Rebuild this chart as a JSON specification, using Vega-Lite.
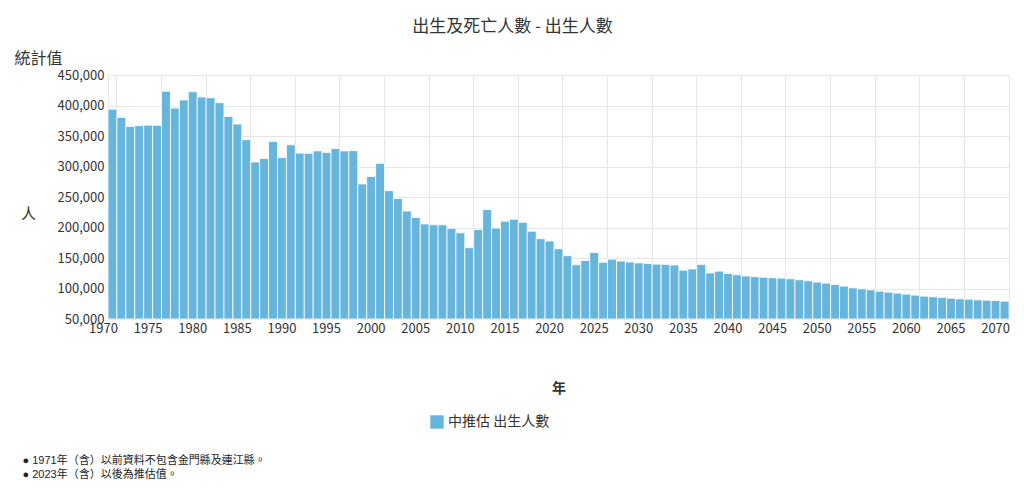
{
  "$schema": "https://vega.github.io/schema/vega-lite/v6.json",
  "autosize": {"type": "none"},
  "width": 901,
  "height": 244,
  "padding": {"left": 108, "top": 75, "right": 15, "bottom": 179},
  "background": "#ffffff",
  "title": {
    "text": "出生及死亡人數 - 出生人數",
    "fontSize": 17,
    "fontWeight": "normal",
    "color": "#333333",
    "anchor": "middle",
    "offset": 14,
    "dx": -46
  },
  "config": {
    "font": "Noto Sans CJK TC",
    "view": {"stroke": "#e6e6e6"},
    "axis": {"gridColor": "#e6e6e6", "labelColor": "#333333", "titleColor": "#333333"}
  },
  "data": {
    "values": [
      {"year": 1970, "births": 394015}, {"year": 1971, "births": 380424}, {"year": 1972, "births": 365749},
      {"year": 1973, "births": 366942}, {"year": 1974, "births": 367823}, {"year": 1975, "births": 367647},
      {"year": 1976, "births": 423356}, {"year": 1977, "births": 395796}, {"year": 1978, "births": 409203},
      {"year": 1979, "births": 422518}, {"year": 1980, "births": 413881}, {"year": 1981, "births": 412779},
      {"year": 1982, "births": 404593}, {"year": 1983, "births": 382153}, {"year": 1984, "births": 369711},
      {"year": 1985, "births": 344017}, {"year": 1986, "births": 307363}, {"year": 1987, "births": 313282},
      {"year": 1988, "births": 341054}, {"year": 1989, "births": 314553}, {"year": 1990, "births": 335618},
      {"year": 1991, "births": 321932}, {"year": 1992, "births": 321632}, {"year": 1993, "births": 325613},
      {"year": 1994, "births": 322938}, {"year": 1995, "births": 329581}, {"year": 1996, "births": 325545},
      {"year": 1997, "births": 326002}, {"year": 1998, "births": 271450}, {"year": 1999, "births": 283661},
      {"year": 2000, "births": 305312}, {"year": 2001, "births": 260354}, {"year": 2002, "births": 247530},
      {"year": 2003, "births": 227070}, {"year": 2004, "births": 216419}, {"year": 2005, "births": 205854},
      {"year": 2006, "births": 204459}, {"year": 2007, "births": 204414}, {"year": 2008, "births": 198733},
      {"year": 2009, "births": 191310}, {"year": 2010, "births": 166886}, {"year": 2011, "births": 196627},
      {"year": 2012, "births": 229481}, {"year": 2013, "births": 199113}, {"year": 2014, "births": 210383},
      {"year": 2015, "births": 213598}, {"year": 2016, "births": 208440}, {"year": 2017, "births": 193844},
      {"year": 2018, "births": 181601}, {"year": 2019, "births": 177767}, {"year": 2020, "births": 165249},
      {"year": 2021, "births": 153820}, {"year": 2022, "births": 138986}, {"year": 2023, "births": 146000},
      {"year": 2024, "births": 159000}, {"year": 2025, "births": 143000}, {"year": 2026, "births": 148000},
      {"year": 2027, "births": 145000}, {"year": 2028, "births": 143500}, {"year": 2029, "births": 142000},
      {"year": 2030, "births": 141000}, {"year": 2031, "births": 140000}, {"year": 2032, "births": 139500},
      {"year": 2033, "births": 138500}, {"year": 2034, "births": 130000}, {"year": 2035, "births": 132000},
      {"year": 2036, "births": 139500}, {"year": 2037, "births": 125500}, {"year": 2038, "births": 128500},
      {"year": 2039, "births": 124700}, {"year": 2040, "births": 122500}, {"year": 2041, "births": 120500},
      {"year": 2042, "births": 119300}, {"year": 2043, "births": 118500}, {"year": 2044, "births": 117600},
      {"year": 2045, "births": 117000}, {"year": 2046, "births": 116000}, {"year": 2047, "births": 114300},
      {"year": 2048, "births": 112700}, {"year": 2049, "births": 110500}, {"year": 2050, "births": 108800},
      {"year": 2051, "births": 106600}, {"year": 2052, "births": 103900}, {"year": 2053, "births": 101100},
      {"year": 2054, "births": 99500}, {"year": 2055, "births": 97800}, {"year": 2056, "births": 95600},
      {"year": 2057, "births": 94000}, {"year": 2058, "births": 92400}, {"year": 2059, "births": 90700},
      {"year": 2060, "births": 89100}, {"year": 2061, "births": 87400}, {"year": 2062, "births": 86300},
      {"year": 2063, "births": 85200}, {"year": 2064, "births": 84100}, {"year": 2065, "births": 83000},
      {"year": 2066, "births": 82500}, {"year": 2067, "births": 81400}, {"year": 2068, "births": 80800},
      {"year": 2069, "births": 80300}, {"year": 2070, "births": 79200}
    ]
  },
  "resolve": {"axis": {"x": "independent", "y": "independent"}},
  "layer": [
    {
      "mark": {"type": "bar", "stroke": "#ffffff", "strokeWidth": 1, "strokeOpacity": 0.8},
      "encoding": {
        "x": {
          "field": "year",
          "type": "ordinal",
          "scale": {"paddingInner": 0, "paddingOuter": 0},
          "axis": {
            "orient": "bottom",
            "values": [1970, 1975, 1980, 1985, 1990, 1995, 2000, 2005, 2010, 2015, 2020, 2025, 2030, 2035, 2040, 2045, 2050, 2055, 2060, 2065, 2070],
            "bandPosition": 1,
            "labelOffset": -8.92,
            "labelAngle": 0,
            "labelFontSize": 13,
            "labelPadding": 3,
            "ticks": false,
            "domain": false,
            "grid": true,
            "title": "年",
            "titleFontSize": 14,
            "titleFontWeight": "bold",
            "titleX": 450.5,
            "titleY": 69,
            "titleBaseline": "middle",
            "titleAlign": "center"
          }
        },
        "y": {
          "field": "births",
          "type": "quantitative",
          "scale": {"domain": [50000, 450000], "zero": false, "nice": false},
          "axis": {
            "orient": "left",
            "values": [50000, 100000, 150000, 200000, 250000, 300000, 350000, 400000, 450000],
            "format": ",.0f",
            "labelFontSize": 13,
            "labelPadding": 4,
            "ticks": false,
            "domain": false,
            "grid": true,
            "title": "人",
            "titleAngle": 0,
            "titleFontSize": 15,
            "titleFontWeight": "normal",
            "titleX": -80,
            "titleY": 138,
            "titleAlign": "center",
            "titleBaseline": "middle"
          }
        },
        "y2": {"datum": 50000},
        "color": {
          "datum": "中推估 出生人數",
          "type": "nominal",
          "scale": {"range": ["#66b5dc"]},
          "legend": {
            "orient": "none",
            "legendX": 322,
            "legendY": 340,
            "title": null,
            "direction": "horizontal",
            "symbolType": "square",
            "symbolSize": 180,
            "symbolStrokeWidth": 0,
            "labelFontSize": 14,
            "labelColor": "#333333",
            "labelOffset": 4
          }
        }
      }
    },
    {
      "mark": {"type": "bar", "opacity": 0},
      "encoding": {
        "x": {
          "field": "year",
          "type": "ordinal",
          "axis": {
            "orient": "bottom",
            "labels": false,
            "ticks": false,
            "domain": false,
            "grid": false,
            "title": ["● 1971年（含）以前資料不包含金門縣及連江縣。", "● 2023年（含）以後為推估值。"],
            "titleFont": "Liberation Sans, Noto Sans CJK TC",
            "titleFontSize": 11,
            "titleFontWeight": "normal",
            "titleColor": "#222222",
            "titleLineHeight": 14,
            "titleX": -86,
            "titleY": 141,
            "titleAlign": "left",
            "titleBaseline": "middle"
          }
        },
        "y": {
          "field": "births",
          "type": "quantitative",
          "axis": {
            "orient": "left",
            "labels": false,
            "ticks": false,
            "domain": false,
            "grid": false,
            "title": "統計值",
            "titleAngle": 0,
            "titleFontSize": 16,
            "titleFontWeight": "normal",
            "titleX": -94,
            "titleY": -17,
            "titleAlign": "left",
            "titleBaseline": "middle"
          }
        },
        "y2": {"datum": 50000}
      }
    }
  ]
}
